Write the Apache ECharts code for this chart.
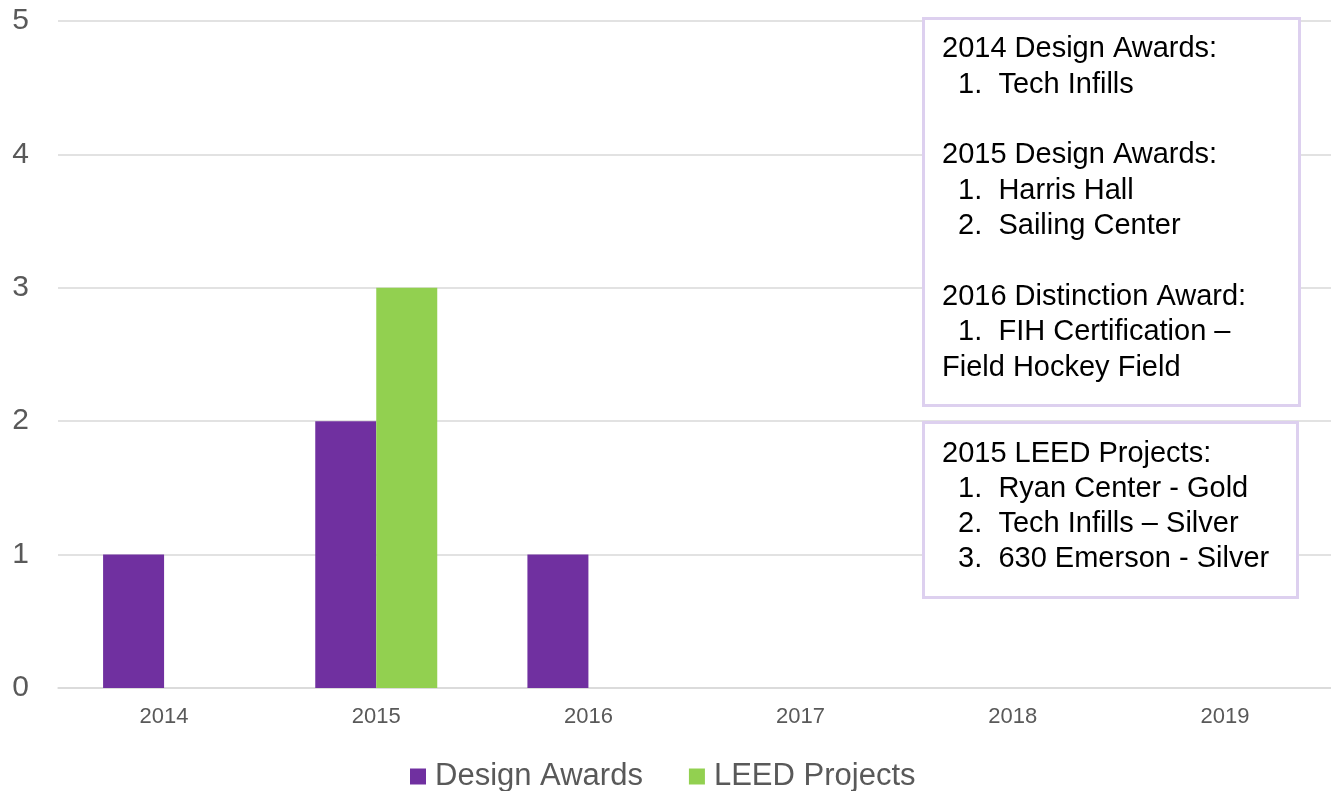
<!DOCTYPE html>
<html>
<head>
<meta charset="utf-8">
<script src="https://cdn.jsdelivr.net/npm/echarts@6/dist/echarts.min.js"></script>
<style>
html,body{margin:0;padding:0;background:#fff;}
#chart{width:1331px;height:791px;}
</style>
</head>
<body>
<div id="chart"></div>
<script>
var categories = ['2014', '2015', '2016', '2017', '2018', '2019'];
var designAwards = [1, 2, 1, 0, 0, 0];
var leedProjects = [0, 3, 0, 0, 0, 0];
var yTicks = [0, 1, 2, 3, 4, 5];
var seriesNames = ['Design Awards', 'LEED Projects'];
var awardsNote = [
  '2014 Design Awards:',
  '  1.  Tech Infills',
  '',
  '2015 Design Awards:',
  '  1.  Harris Hall',
  '  2.  Sailing Center',
  '',
  '2016 Distinction Award:',
  '  1.  FIH Certification \u2013',
  'Field Hockey Field'
];
var leedNote = [
  '2015 LEED Projects:',
  '  1.  Ryan Center - Gold',
  '  2.  Tech Infills \u2013 Silver',
  '  3.  630 Emerson - Silver'
];

var FONT = '"Liberation Sans", Arial, sans-serif';
var chart = echarts.init(document.getElementById('chart'), null, {renderer: 'canvas'});

function noteText(lines) {
  return lines.map(function (l) { return l === '' ? ' ' : l; }).join('\n');
}

var option = {
  backgroundColor: '#ffffff',
  animation: false,
  grid: {left: 58, right: 0, top: 21, bottom: 103, containLabel: false},
  legend: {
    data: seriesNames,
    top: 756,
    left: 405,
    itemWidth: 16,
    itemHeight: 16,
    itemGap: 46,
    icon: 'rect',
    textStyle: {fontFamily: FONT, fontSize: 31, color: '#595959', padding: [0, 0, 0, 4]}
  },
  xAxis: {
    type: 'category',
    data: categories,
    axisLine: {show: true, lineStyle: {color: '#d9d9d9', width: 1.5}},
    axisTick: {show: false},
    axisLabel: {fontFamily: FONT, fontSize: 22, color: '#595959', margin: 18}
  },
  yAxis: {
    type: 'value',
    min: yTicks[0],
    max: yTicks[yTicks.length - 1],
    interval: 1,
    axisLine: {show: false},
    axisTick: {show: false},
    splitLine: {lineStyle: {color: '#d9d9d9', width: 1.5}},
    axisLabel: {fontFamily: FONT, fontSize: 30, color: '#595959', margin: 29}
  },
  series: [
    {
      name: seriesNames[0],
      type: 'bar',
      data: designAwards,
      barWidth: 61,
      barGap: '0%',
      itemStyle: {color: '#7030a0'}
    },
    {
      name: seriesNames[1],
      type: 'bar',
      data: leedProjects,
      barWidth: 61,
      barGap: '0%',
      itemStyle: {color: '#92d050'}
    }
  ],
  graphic: [
    {
      type: 'rect',
      z: 100,
      shape: {x: 923.5, y: 18.5, width: 376, height: 387},
      style: {fill: '#ffffff', stroke: '#ddd0ef', lineWidth: 3}
    },
    {
      type: 'text',
      z: 101,
      left: 942,
      top: 31.5,
      style: {
        text: noteText(awardsNote),
        fontFamily: FONT,
        fontSize: 29,
        lineHeight: 35.4,
        fill: '#000000'
      }
    },
    {
      type: 'rect',
      z: 100,
      shape: {x: 923.5, y: 422.5, width: 374, height: 175},
      style: {fill: '#ffffff', stroke: '#ddd0ef', lineWidth: 3}
    },
    {
      type: 'text',
      z: 101,
      left: 942,
      top: 436.5,
      style: {
        text: noteText(leedNote),
        fontFamily: FONT,
        fontSize: 29,
        lineHeight: 35,
        fill: '#000000'
      }
    }
  ]
};
chart.setOption(option);
</script>
</body>
</html>
